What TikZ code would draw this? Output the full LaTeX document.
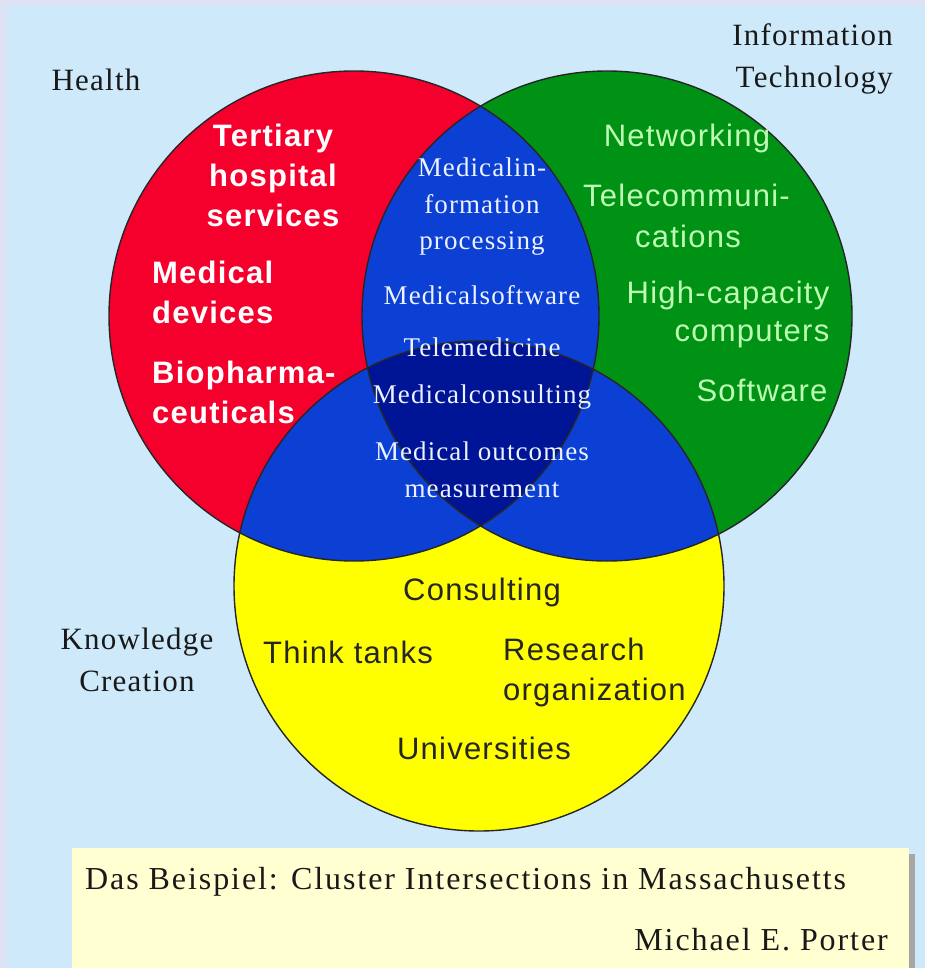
\documentclass[tikz,border=0pt]{standalone}
\usepackage{fontspec}
\setmainfont{Liberation Serif}[LetterSpace=4]
\newfontfamily\titlef{Liberation Serif}[LetterSpace=6]
\newfontfamily\sansf{Liberation Sans}[LetterSpace=4]
\definecolor{bgblue}{RGB}{206,234,250}
\definecolor{lav}{RGB}{222,226,245}
\definecolor{cred}{RGB}{245,0,45}
\definecolor{cgreen}{RGB}{0,146,20}
\definecolor{cyellow}{RGB}{255,255,0}
\definecolor{cblue}{RGB}{12,64,212}
\definecolor{cdark}{RGB}{0,20,150}
\definecolor{boxy}{RGB}{255,255,210}
\definecolor{lgreen}{RGB}{190,252,180}
\definecolor{lenswhite}{RGB}{236,242,255}
\tikzset{
  redtxt/.style={font=\sansf\bfseries\fontsize{31}{40}\selectfont, text=white, inner sep=0pt},
  greentxt/.style={font=\sansf\fontsize{31}{40}\selectfont, text=lgreen, inner sep=0pt},
  yeltxt/.style={font=\sansf\fontsize{31}{40}\selectfont, text=black!85, inner sep=0pt},
  lenstxt/.style={font=\fontsize{27}{36.5}\selectfont, text=lenswhite, inner sep=0pt, align=center},
  labtxt/.style={font=\fontsize{31}{42}\selectfont, text=black!90, inner sep=0pt},
  titletxt/.style={font=\titlef\fontsize{32}{40}\selectfont, text=black!90, inner sep=0pt},
  outline/.style={draw=black!85, line width=1.4pt},
}
\begin{document}
\begin{tikzpicture}[x=1pt,y=-1pt]
\useasboundingbox (0,0) rectangle (925,968);
\fill[lav] (0,0) rectangle (925,968);
\fill[bgblue] (7,6) rectangle (925,968);

\coordinate (R) at (354,316);
\coordinate (G) at (607,316);
\coordinate (Y) at (479,586);
\def\rad{245pt}

% base circles
\fill[cred] (R) circle[radius=\rad];
\fill[cgreen] (G) circle[radius=\rad];
\fill[cyellow] (Y) circle[radius=\rad];
% pairwise intersections
\begin{scope}
  \clip (R) circle[radius=\rad];
  \fill[cblue] (G) circle[radius=\rad];
  \fill[cblue] (Y) circle[radius=\rad];
\end{scope}
\begin{scope}
  \clip (G) circle[radius=\rad];
  \fill[cblue] (Y) circle[radius=\rad];
\end{scope}
% triple intersection
\begin{scope}
  \clip (R) circle[radius=\rad];
  \clip (G) circle[radius=\rad];
  \fill[cdark] (Y) circle[radius=\rad];
\end{scope}
% outlines
\draw[outline] (R) circle[radius=\rad];
\draw[outline] (G) circle[radius=\rad];
\draw[outline] (Y) circle[radius=\rad];

% outer labels
\node[labtxt] (health) at (96,80) {Health};
\node[labtxt, align=right, anchor=east] (it) at (893,59) {Information\\Technology};
\node[labtxt, align=center] (kc) at (137,660) {Knowledge\\Creation};

% health circle
\node[redtxt, align=center] (tert) at (273,175) {Tertiary\\hospital\\services};
\node[redtxt, align=left, anchor=west] (devices) at (152,292) {Medical\\devices};
\node[redtxt, align=left, anchor=west] (bio) at (152,392) {Biopharma-\\ceuticals};

% lens texts
\node[lenstxt] (mip) at (482,207) {Medicalin-\\formation\\processing};
\node[lenstxt] (msw) at (482,295) {Medicalsoftware};
\node[lenstxt] (tele) at (482,347) {Telemedicine};
\node[lenstxt] (mcons) at (482,397) {Medicalconsulting};
\node[lenstxt] (mom) at (482,470) {Medical outcomes\\measurement};

% IT circle
\node[greentxt] (net) at (687,138) {Networking};
\node[greentxt, anchor=west] (tel1) at (583,195) {Telecommuni-};
\node[greentxt] (tel2) at (688,236) {cations};
\node[greentxt] (hc) at (728,295) {High-capacity};
\node[greentxt] (comp) at (752,335) {computers};
\node[greentxt] (soft) at (762,390) {Software};

% knowledge circle
\node[yeltxt] (cons) at (482,592) {Consulting};
\node[yeltxt] (think) at (348,652) {Think tanks};
\node[yeltxt, align=left, anchor=west] (res) at (503,672) {Research\\organization};
\node[yeltxt] (univ) at (484,748) {Universities};

% bottom box
\fill[black!35] (78,854) rectangle (915,975);
\fill[boxy] (72,848) rectangle (909,968);
\node[titletxt, anchor=west] (title) at (85,882) {Das Beispiel: Cluster Intersections in Massachusetts};
\node[titletxt, anchor=east] (author) at (888,940) {Michael E. Porter};
\end{tikzpicture}
\end{document}
